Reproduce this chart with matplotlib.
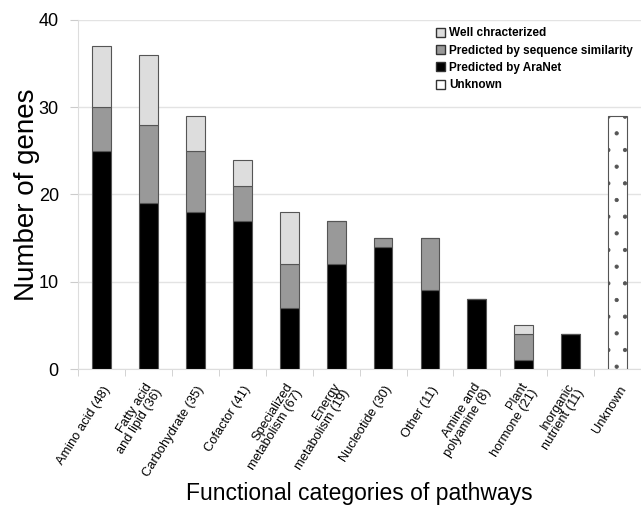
import numpy as np
import matplotlib.pyplot as plt
import matplotlib.transforms as mtrans
from matplotlib.patches import Patch

plt.rcParams['font.family'] = ['Liberation Sans', 'DejaVu Sans']
plt.rcParams['hatch.linewidth'] = 0.6

categories = ["Amino acid (48)", "Fatty acid\nand lipid (36)", "Carbohydrate (35)",
              "Cofactor (41)", "Specialized\nmetabolism (67)", "Energy\nmetabolism (19)",
              "Nucleotide (30)", "Other (11)", "Amine and\npolyamine (8)",
              "Plant\nhormone (21)", "Inorganic\nnutrient (11)", "Unknown"]
aranet = [25, 19, 18, 17, 7, 12, 14, 9, 8, 1, 4, 0]
seq_sim = [5, 9, 7, 4, 5, 5, 1, 6, 0, 3, 0, 0]
well = [7, 8, 4, 3, 6, 0, 0, 0, 0, 1, 0, 0]
unknown = [0, 0, 0, 0, 0, 0, 0, 0, 0, 0, 0, 29]

fig = plt.figure(figsize=(6.41, 5.07), dpi=100)
ax = fig.add_axes([0.122, 0.272, 0.878, 0.689])

x = np.arange(len(categories))
w = 0.4
edge = dict(edgecolor='#555555', linewidth=0.8)
b1 = np.array(aranet)
b2 = b1 + np.array(seq_sim)
ax.bar(x, aranet, w, color='black', zorder=3, **edge)
ax.bar(x, seq_sim, w, bottom=b1, color='#999999', zorder=3, **edge)
ax.bar(x, well, w, bottom=b2, color='#dddddd', zorder=3, **edge)
ax.bar(x, unknown, w, color='white', hatch='.', zorder=3, **edge)

ax.set_xlim(-0.5, len(categories) - 0.5)
ax.set_ylim(0, 40)
ax.set_yticks([0, 10, 20, 30, 40])
ax.yaxis.grid(True, color='#e3e3e3', linewidth=1)
ax.set_axisbelow(True)
for s in ['top', 'right']:
    ax.spines[s].set_visible(False)
for s in ['left', 'bottom']:
    ax.spines[s].set_color('#dddddd')
ax.tick_params(axis='y', colors='#cccccc', labelcolor='black', labelsize=13, length=6, pad=8)
ax.set_xticks(x)
ax.set_xticklabels(categories, rotation=58, ha='right', va='center', rotation_mode='anchor',
                   fontsize=9.3, linespacing=0.95)
ax.tick_params(axis='x', length=0, pad=13)
# shift the rotated labels a little to the right, like the original
shift = mtrans.ScaledTranslation(6 / 100, 0, fig.dpi_scale_trans)
for lab in ax.get_xticklabels():
    lab.set_transform(lab.get_transform() + shift)
ax.set_xticks(np.arange(-0.5, len(categories)), minor=True)
ax.tick_params(axis='x', which='minor', length=5, color='#cccccc')

ax.set_ylabel("Number of genes", fontsize=20, labelpad=-1)
ax.set_xlabel("Functional categories of pathways", fontsize=16.5, labelpad=2)

handles = [Patch(facecolor='#dddddd', edgecolor='#333333', label='Well chracterized'),
           Patch(facecolor='#999999', edgecolor='#333333', label='Predicted by sequence similarity'),
           Patch(facecolor='black', edgecolor='#333333', label='Predicted by AraNet'),
           Patch(facecolor='white', edgecolor='#333333', label='Unknown')]
ax.legend(handles=handles, loc='upper left', bbox_to_anchor=(0.627, 0.992), frameon=False,
          prop={'weight': 'bold', 'size': 8.5}, handlelength=0.8, handleheight=0.8,
          handletextpad=0.3, labelspacing=0.45, borderaxespad=0)

fig.savefig("out.png", dpi=100)
